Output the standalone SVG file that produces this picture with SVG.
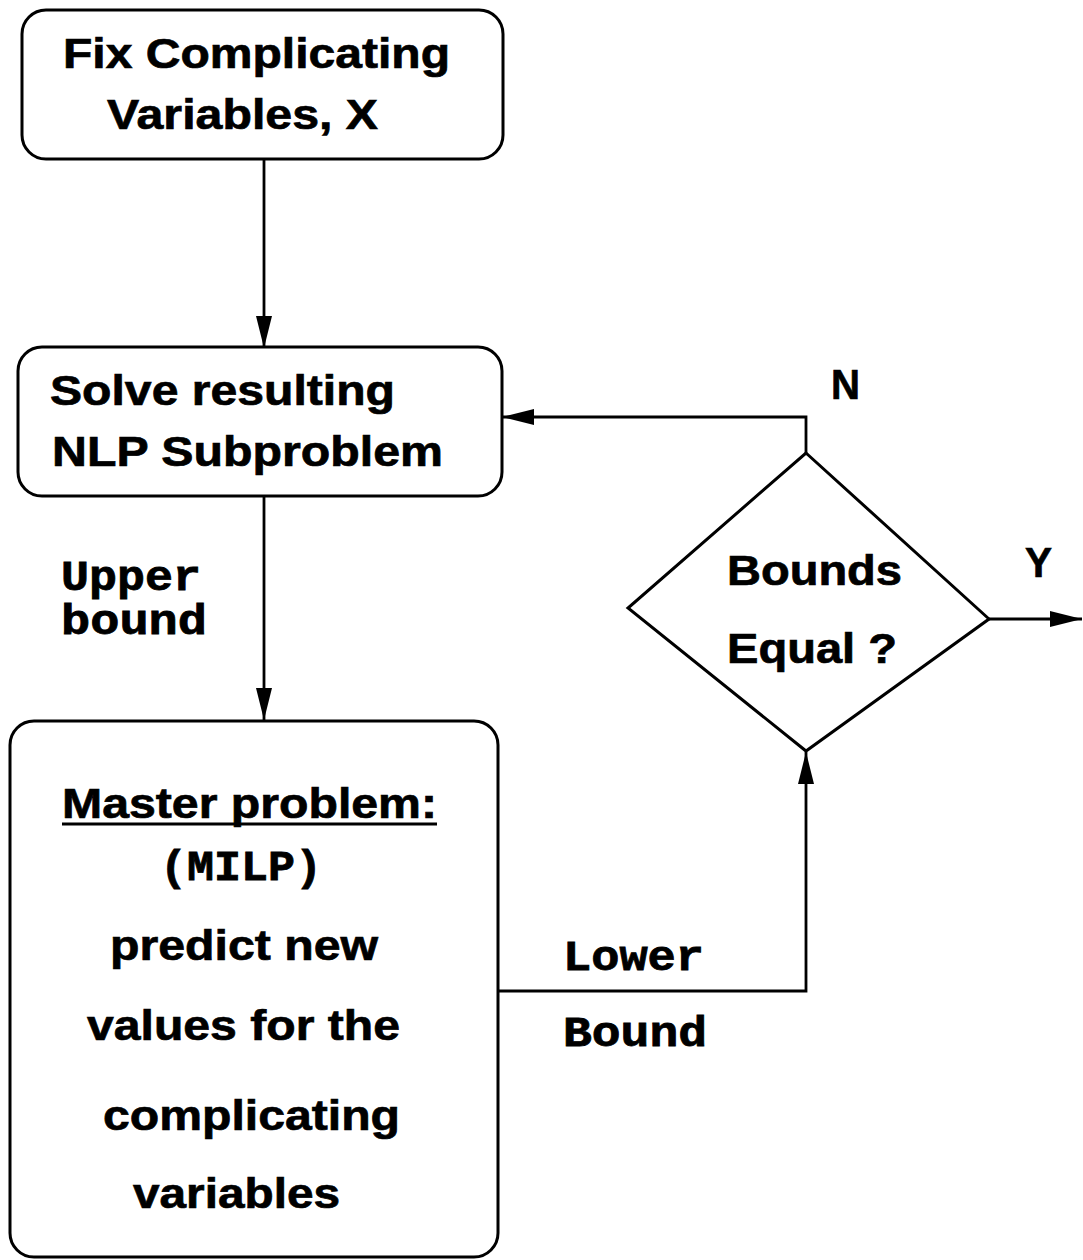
<svg xmlns="http://www.w3.org/2000/svg" width="1083" height="1260" viewBox="0 0 1083 1260">
  <style>
    .box { fill: #fff; stroke: #000; stroke-width: 3; }
    .line { fill: none; stroke: #000; stroke-width: 2.8; }
    .sans { font-family: "Liberation Sans", Arial, Helvetica, sans-serif; font-weight: bold; font-size: 43px; fill: #000; stroke: #000; stroke-width: 0.7; }
    .mono { font-family: "Liberation Mono", "Courier New", monospace; font-weight: bold; font-size: 42px; fill: #000; stroke: #000; stroke-width: 0.8; }
  </style>
  <defs>
    <marker id="arrow" markerUnits="userSpaceOnUse" markerWidth="32" markerHeight="16" refX="32" refY="8" orient="auto">
      <path d="M0,0 L32,8 L0,16 z" fill="#000"/>
    </marker>
  </defs>
  <rect width="1083" height="1260" fill="#fff"/>

  <!-- connectors -->
  <g id="connectors">
    <path class="line" d="M264,158 L264,348" marker-end="url(#arrow)"/>
    <path class="line" d="M264,495 L264,720" marker-end="url(#arrow)"/>
    <path class="line" d="M806,453 L806,417 L502,417" marker-end="url(#arrow)"/>
    <path class="line" d="M498,991 L806,991 L806,752" marker-end="url(#arrow)"/>
    <path class="line" d="M989,619 L1082,619" marker-end="url(#arrow)"/>
  </g>

  <!-- step 1 -->
  <g id="fix-variables">
    <rect class="box" x="22" y="10" width="481" height="149" rx="24"/>
    <text class="sans" x="63" y="68" textLength="387" lengthAdjust="spacingAndGlyphs">Fix Complicating</text>
    <text class="sans" x="107" y="129" textLength="271" lengthAdjust="spacingAndGlyphs">Variables, X</text>
  </g>

  <!-- step 2 -->
  <g id="nlp-subproblem">
    <rect class="box" x="18" y="347" width="484" height="149" rx="24"/>
    <text class="sans" x="50" y="405" textLength="345" lengthAdjust="spacingAndGlyphs">Solve resulting</text>
    <text class="sans" x="52" y="466" textLength="391" lengthAdjust="spacingAndGlyphs">NLP Subproblem</text>
  </g>

  <!-- upper bound label -->
  <g id="upper-bound-label">
    <text class="mono" x="61" y="590" textLength="140" lengthAdjust="spacingAndGlyphs">Upper</text>
    <text class="mono" x="61" y="634" textLength="146" lengthAdjust="spacingAndGlyphs">bound</text>
  </g>

  <!-- step 3 -->
  <g id="master-problem">
    <rect class="box" x="10" y="721" width="488" height="536" rx="24"/>
    <text class="sans" x="62" y="818" textLength="375" lengthAdjust="spacingAndGlyphs">Master problem:</text>
    <line x1="62" y1="824" x2="437" y2="824" stroke="#000" stroke-width="3"/>
    <text class="mono" x="160" y="880" textLength="162" lengthAdjust="spacingAndGlyphs">(MILP)</text>
    <text class="sans" x="110" y="960" textLength="268" lengthAdjust="spacingAndGlyphs">predict new</text>
    <text class="sans" x="87" y="1040" textLength="313" lengthAdjust="spacingAndGlyphs">values for the</text>
    <text class="sans" x="103" y="1130" textLength="297" lengthAdjust="spacingAndGlyphs">complicating</text>
    <text class="sans" x="133" y="1208" textLength="207" lengthAdjust="spacingAndGlyphs">variables</text>
  </g>

  <!-- lower bound label -->
  <g id="lower-bound-label">
    <text class="mono" x="563" y="970" textLength="141" lengthAdjust="spacingAndGlyphs">Lower</text>
    <text class="mono" x="563" y="1046" textLength="144" lengthAdjust="spacingAndGlyphs">Bound</text>
  </g>

  <!-- decision -->
  <g id="bounds-equal">
    <polygon class="box" points="806,453 989,619 806,751 628,608"/>
    <text class="sans" x="727" y="585" textLength="175" lengthAdjust="spacingAndGlyphs">Bounds</text>
    <text class="sans" x="727" y="663" textLength="170" lengthAdjust="spacingAndGlyphs">Equal ?</text>
  </g>

  <!-- branch labels -->
  <g id="branch-labels">
    <text class="sans" x="831" y="399" textLength="29" lengthAdjust="spacingAndGlyphs">N</text>
    <text class="sans" x="1025" y="577" textLength="27" lengthAdjust="spacingAndGlyphs">Y</text>
  </g>
</svg>
